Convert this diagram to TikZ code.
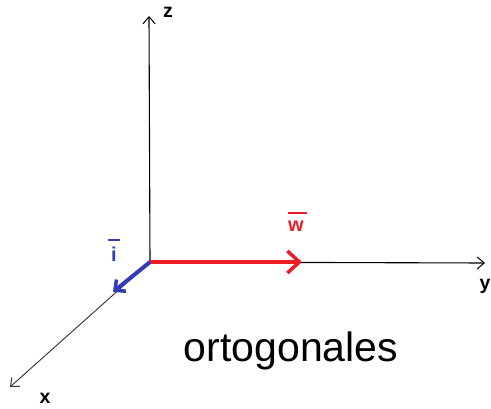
\documentclass[tikz,border=0pt]{standalone}
\usepackage{fontspec}
\setmainfont{Liberation Sans}
\usetikzlibrary{arrows.meta}
\definecolor{pred}{RGB}{237,28,36}
\definecolor{pblue}{RGB}{50,60,180}
\begin{document}
\begin{tikzpicture}[x=1pt,y=-1pt,
  axis/.style={draw=black,line width=1.1pt,-{Straight Barb[length=7pt,width=12pt,line width=1pt]}},
  axlabel/.style={font=\fontsize{19.5}{19.5}\selectfont\bfseries,anchor=base,inner sep=0pt},
  veclabel/.style={font=\fontsize{20}{20}\selectfont\bfseries,anchor=base,inner sep=0pt}]
\useasboundingbox (0,0) rectangle (491,409);
\coordinate (O) at (150,262);
\coordinate (Z) at (149,16);
\coordinate (Y) at (485,263);
\coordinate (X) at (10,387);
\coordinate (W) at (302,262);
\coordinate (I) at (113,292);
\draw[axis] (O) -- (Z);
\draw[axis] (O) -- (Y);
\draw[axis,draw=black!80,line width=0.9pt] (O) -- (X);
\draw[pred,line width=4pt,-{Straight Barb[length=12pt,width=22pt,line width=3.5pt]}] (O) -- (W);
\draw[pblue,line width=4pt,-{Straight Barb[length=8pt,width=15pt,line width=3.5pt]}] (O) -- (I);
\node[axlabel] (zl) at (168,18) {z};
\node[axlabel] (yl) at (485,290) {y};
\node[axlabel] (xl) at (45,403) {x};
\node[veclabel,text=pred] (wl) at (296,232) {w};
\draw[pred,line width=2.5pt] (288,213) -- (307,213);
\node[veclabel,text=pblue] (il) at (114,262) {i};
\draw[pblue,line width=2.5pt] (108,240) -- (120,240);
\node[font=\fontsize{41}{41}\selectfont,anchor=base,inner sep=0pt] (t) at (291,362) {ortogonales};
\end{tikzpicture}
\end{document}
